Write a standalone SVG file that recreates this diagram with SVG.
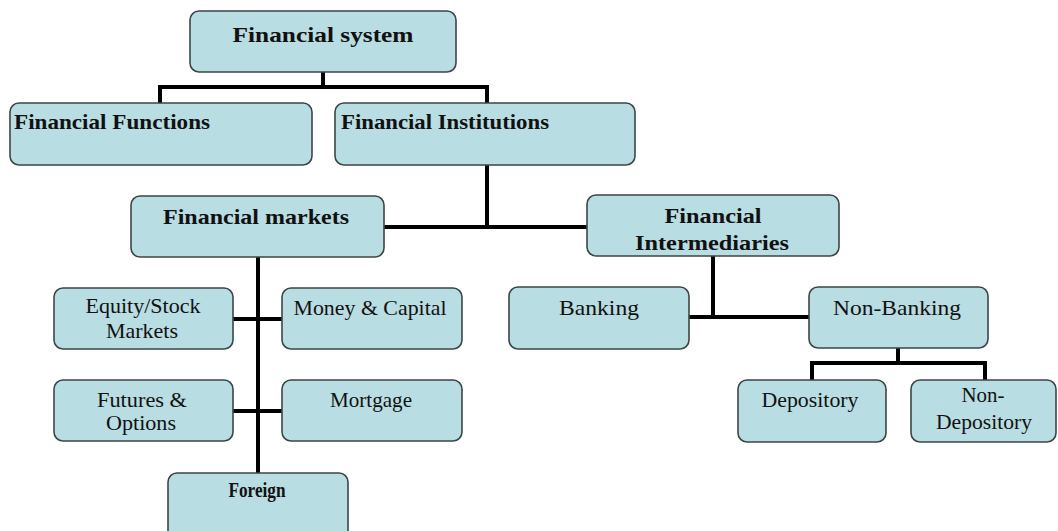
<svg xmlns="http://www.w3.org/2000/svg" width="1058" height="531" viewBox="0 0 1058 531">
<style>
.box{fill:#b8dde2;stroke:#3c4646;stroke-width:1.6}
.t{font-family:"Liberation Serif","Times New Roman",serif;fill:#111;text-anchor:middle;font-size:21px}
.b{font-weight:bold}
.l{text-anchor:start}
.c{fill:none;stroke:#000;stroke-width:4;stroke-linejoin:miter}
</style>
<rect width="1058" height="531" fill="#fff"/>
<g id="connectors">
<path class="c" d="M323,72 V87 M160,103 V87 H487 V103"/>
<path class="c" d="M487,165 V227 M384,227 H587"/>
<path class="c" d="M258,257 V473"/>
<path class="c" d="M233,319 H282 M233,411 H282"/>
<path class="c" d="M713,256 V317 M689,317 H809"/>
<path class="c" d="M898,348 V363 M812,380 V363 H985 V380"/>
</g>
<g id="financial-system">
<rect class="box" x="190" y="11" width="266" height="61" rx="9"/>
<text class="t b" x="323" y="42" font-size="24" textLength="181" lengthAdjust="spacingAndGlyphs">Financial system</text>
</g>
<g id="financial-functions">
<rect class="box" x="10" y="103" width="302" height="62" rx="9"/>
<text class="t b l" x="14" y="129" font-size="23" textLength="196" lengthAdjust="spacingAndGlyphs">Financial Functions</text>
</g>
<g id="financial-institutions">
<rect class="box" x="335" y="103" width="300" height="62" rx="9"/>
<text class="t b l" x="341" y="129" font-size="23" textLength="208" lengthAdjust="spacingAndGlyphs">Financial Institutions</text>
</g>
<g id="financial-markets">
<rect class="box" x="131" y="196" width="253" height="61" rx="9"/>
<text class="t b" x="256" y="224" font-size="23" textLength="186" lengthAdjust="spacingAndGlyphs">Financial markets</text>
</g>
<g id="financial-intermediaries">
<rect class="box" x="587" y="195" width="252" height="61" rx="9"/>
<text class="t b" x="713" y="223" font-size="23" textLength="97" lengthAdjust="spacingAndGlyphs">Financial</text>
<text class="t b" x="712" y="250" font-size="23" textLength="154" lengthAdjust="spacingAndGlyphs">Intermediaries</text>
</g>
<g id="equity">
<rect class="box" x="54" y="288" width="179" height="61" rx="9"/>
<text class="t" x="143" y="313" textLength="115" lengthAdjust="spacingAndGlyphs">Equity/Stock</text>
<text class="t" x="142" y="338" textLength="72" lengthAdjust="spacingAndGlyphs">Markets</text>
</g>
<g id="money-capital">
<rect class="box" x="282" y="288" width="180" height="61" rx="9"/>
<text class="t" x="370" y="315" textLength="153" lengthAdjust="spacingAndGlyphs">Money &amp; Capital</text>
</g>
<g id="futures-options">
<rect class="box" x="54" y="380" width="179" height="61" rx="9"/>
<text class="t" x="142" y="407" textLength="90" lengthAdjust="spacingAndGlyphs">Futures &amp;</text>
<text class="t" x="141" y="430" textLength="70" lengthAdjust="spacingAndGlyphs">Options</text>
</g>
<g id="mortgage">
<rect class="box" x="282" y="380" width="180" height="61" rx="9"/>
<text class="t" x="371" y="407" textLength="82" lengthAdjust="spacingAndGlyphs">Mortgage</text>
</g>
<g id="foreign">
<rect class="box" x="168" y="473" width="180" height="70" rx="9"/>
<text class="t b" x="257" y="497" font-size="16" textLength="57" lengthAdjust="spacingAndGlyphs">Foreign</text>
</g>
<g id="banking">
<rect class="box" x="509" y="287" width="180" height="62" rx="9"/>
<text class="t" x="599" y="315" font-size="22" textLength="80" lengthAdjust="spacingAndGlyphs">Banking</text>
</g>
<g id="non-banking">
<rect class="box" x="809" y="287" width="179" height="61" rx="9"/>
<text class="t" x="897" y="315" font-size="22" textLength="128" lengthAdjust="spacingAndGlyphs">Non-Banking</text>
</g>
<g id="depository">
<rect class="box" x="738" y="380" width="148" height="62" rx="9"/>
<text class="t" x="810" y="407" font-size="22" textLength="97" lengthAdjust="spacingAndGlyphs">Depository</text>
</g>
<g id="non-depository">
<rect class="box" x="911" y="380" width="145" height="62" rx="9"/>
<text class="t" x="983" y="402" font-size="22" textLength="43" lengthAdjust="spacingAndGlyphs">Non-</text>
<text class="t" x="984" y="429" font-size="22" textLength="96" lengthAdjust="spacingAndGlyphs">Depository</text>
</g>
</svg>
